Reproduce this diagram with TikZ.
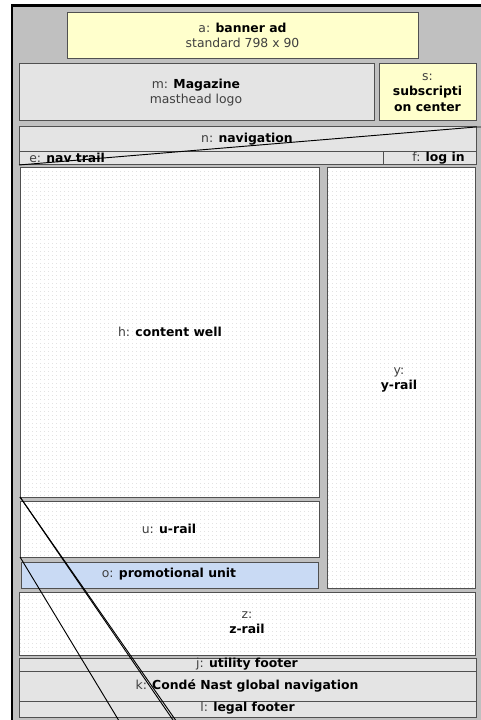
\documentclass[tikz,border=0pt]{standalone}
\usepackage{fontspec}
\setmainfont{DejaVu Sans}
\usetikzlibrary{patterns}
\definecolor{pagegray}{HTML}{C0C0C0}
\definecolor{boxgray}{HTML}{E4E4E4}
\definecolor{boxyellow}{HTML}{FFFFCC}
\definecolor{boxblue}{HTML}{C9DAF4}
\definecolor{edgegray}{HTML}{505050}
\definecolor{dotgray}{HTML}{E2E2E2}
\pgfdeclarepatternformonly{finedots}{\pgfqpoint{0pt}{0pt}}{\pgfqpoint{1.5pt}{1.5pt}}{\pgfqpoint{3pt}{3pt}}{%
  \pgfpathrectangle{\pgfqpoint{0pt}{0pt}}{\pgfqpoint{0.75pt}{0.75pt}}\pgfusepath{fill}}
\newcommand{\bx}[6]{% name,style,x1,y1,x2,y2
  \path[#2] (#3,-#4) rectangle (#5,-#6);
  \coordinate (#1-nw) at (#3,-#4); \coordinate (#1-sw) at (#3,-#6); \coordinate (#1-ne) at (#5,-#4);}
\tikzset{x=0.75pt,y=0.75pt,
  solidbox/.style={draw=edgegray,line width=0.75pt,fill=#1},
  wellbox/.style={fill=white,postaction={pattern=finedots,pattern color=dotgray},postaction={fill=none,draw=edgegray,line width=0.75pt}},
  lbl/.style={font=\fontsize{9.3}{11.4}\selectfont,align=center,text=black,inner sep=0pt},
  conn/.style={draw=black,line width=0.7pt}}
\newcommand{\lb}[1]{\textcolor{black!75}{#1}}
\begin{document}
\begin{tikzpicture}
\useasboundingbox (0,0) rectangle (481,-720);
\fill[pagegray] (12,-5) rectangle (481,-720);
\draw[black,line width=2pt] (12,-720) -- (12,-5.5) -- (481,-5.5);
\bx{a}{solidbox=boxyellow}{67}{12.5}{418}{59}
\bx{m}{solidbox=boxgray}{19}{63.5}{374}{121}
\bx{s}{solidbox=boxyellow}{379}{64}{476}{121}
\bx{n}{solidbox=boxgray}{19}{127}{476}{152}
\bx{e}{solidbox=boxgray}{19}{152}{383}{165}
\bx{f}{solidbox=boxgray}{383}{152}{476}{165}
\bx{h}{wellbox}{20}{168}{319}{497}
\bx{y}{wellbox}{327}{168}{475}{588}
\bx{u}{wellbox}{20}{501}{319}{557}
\bx{o}{solidbox=boxblue}{21}{562}{318.5}{588}
\bx{z}{wellbox}{19}{592}{475}{655}
\bx{j}{solidbox=boxgray}{19}{658}{476}{671}
\bx{k}{solidbox=boxgray}{19}{671}{476}{701}
\bx{l}{solidbox=boxgray}{19}{701}{476}{717}
\node[lbl] (ta) at (242.5,-35.5) {\lb{a:} \textbf{banner ad}\\\lb{standard 798 x 90}};
\node[lbl] (tm) at (196,-92.5) {\lb{m:} \textbf{Magazine}\\\lb{masthead logo}};
\node[lbl] (ts) at (427.5,-92.5) {\lb{s:}\\\textbf{subscripti}\\\textbf{on center}};
\node[lbl] (tn) at (247,-139) {\lb{n:} \textbf{navigation}};
\node[lbl,anchor=west] (te) at (29,-158) {\lb{e:} \textbf{nav trail}};
\node[lbl,anchor=east] (tf) at (465,-158) {\lb{f:} \textbf{log in}};
\node[lbl] (th) at (170,-332) {\lb{h:} \textbf{content well}};
\node[lbl] (ty) at (399,-380) {\lb{y:}\\\textbf{y-rail}};
\node[lbl] (tu) at (169,-528.5) {\lb{u:} \textbf{u-rail}};
\node[lbl] (to) at (169,-574) {\lb{o:} \textbf{promotional unit}};
\node[lbl] (tz) at (247,-623) {\lb{z:}\\\textbf{z-rail}};
\node[lbl] (tj) at (247,-664) {\lb{j:} \textbf{utility footer}};
\node[lbl] (tk) at (247,-685.5) {\lb{k:} \textbf{Condé Nast global navigation}};
\node[lbl] (tl) at (247.5,-708.5) {\lb{l:} \textbf{legal footer}};
\coordinate (edge1) at (481,-127);
\coordinate (off1) at (173,-720);
\coordinate (off2) at (175.5,-720);
\coordinate (off3) at (118.5,-720);
\draw[conn] (e-sw) -- (n-ne) -- (edge1);
\draw[conn] (h-sw) -- (off1);
\draw[conn] (h-sw) -- (off2);
\draw[conn] (u-sw) -- (off3);
\end{tikzpicture}
\end{document}
